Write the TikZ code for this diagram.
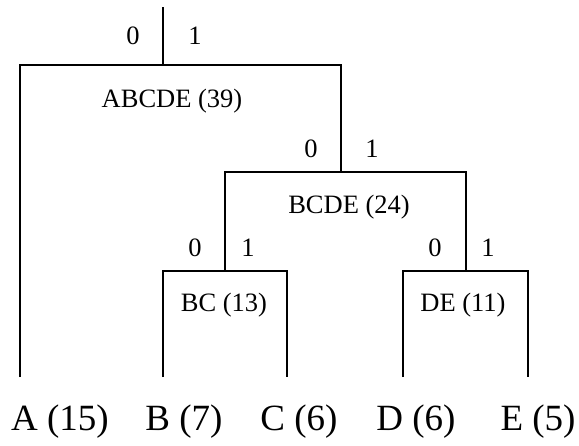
\documentclass[tikz,border=0pt]{standalone}
\usepackage{fontspec}
\setmainfont{Liberation Serif}
\begin{document}
\begin{tikzpicture}[x=1pt,y=-1pt,
  edge/.style={line width=1.5pt, line join=miter},
  lab/.style={font=\fontsize{26.5}{30}\selectfont, inner sep=0pt},
  leaf/.style={font=\fontsize{37}{41}\selectfont, inner sep=0pt}]
\useasboundingbox (0,0) rectangle (579,445);
% junction coordinates
\coordinate (top) at (163,7);
\coordinate (rootM) at (163,65);
\coordinate (rootL) at (20,65);
\coordinate (rootR) at (341,65);
\coordinate (bcdeM) at (341,172);
\coordinate (bcdeL) at (225,172);
\coordinate (bcdeR) at (466,172);
\coordinate (bcM) at (225,271);
\coordinate (bcL) at (163,271);
\coordinate (bcR) at (287,271);
\coordinate (deM) at (466,271);
\coordinate (deL) at (403,271);
\coordinate (deR) at (528,271);
\coordinate (aEnd) at (20,377);
\coordinate (bEnd) at (163,377);
\coordinate (cEnd) at (287,377);
\coordinate (dEnd) at (403,377);
\coordinate (eEnd) at (528,377);
% edges
\draw[edge] (top) -- (rootM);
\draw[edge] (aEnd) -- (rootL) -- (rootR) -- (bcdeM);
\draw[edge] (bcM) -- (bcdeL) -- (bcdeR) -- (deM);
\draw[edge] (bEnd) -- (bcL) -- (bcR) -- (cEnd);
\draw[edge] (dEnd) -- (deL) -- (deR) -- (eEnd);
% internal labels
\node[lab] (abcde) at (172,101) {ABCDE (39)};
\node[lab] (bcde) at (349,207) {BCDE (24)};
\node[lab] (bc) at (224,305) {BC (13)};
\node[lab] (de) at (463,305) {DE (11)};
% bit labels
\node[lab] (z1) at (133,36) {0};
\node[lab] (o1) at (195,36) {1};
\node[lab] (z2) at (311,149) {0};
\node[lab] (o2) at (372,149) {1};
\node[lab] (z3) at (195,248) {0};
\node[lab] (o3) at (248,248) {1};
\node[lab] (z4) at (435,248) {0};
\node[lab] (o4) at (488,248) {1};
% leaf labels
\node[leaf] (A) at (60,422) {A (15)};
\node[leaf] (B) at (184,422) {B (7)};
\node[leaf] (C) at (299,422) {C (6)};
\node[leaf] (D) at (416,422) {D (6)};
\node[leaf] (E) at (538,422) {E (5)};
\end{tikzpicture}
\end{document}
